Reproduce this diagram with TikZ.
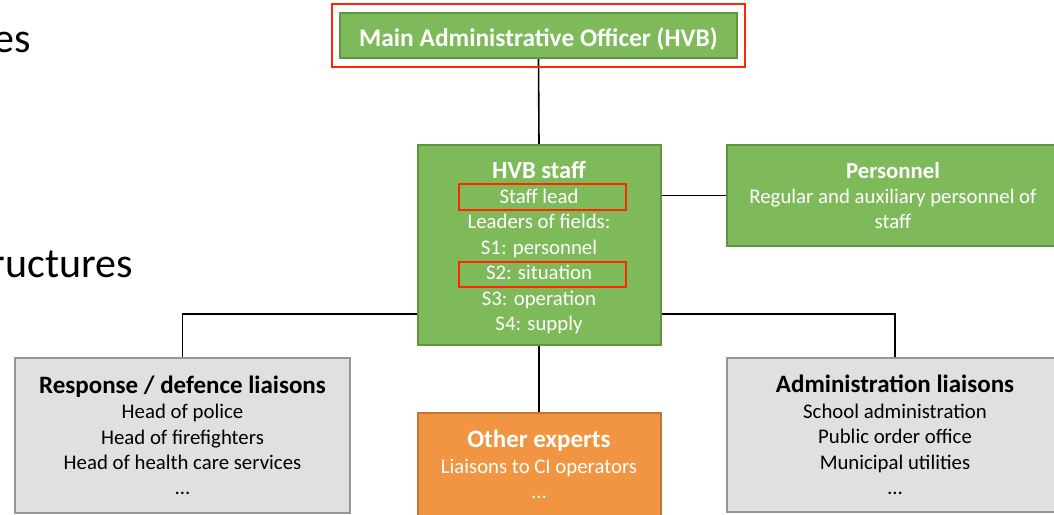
\documentclass[tikz,border=0pt]{standalone}
\usepackage{fontspec}
\setmainfont{Carlito}
\usetikzlibrary{fit,backgrounds}

\definecolor{boxgreen}{RGB}{127,186,90}
\definecolor{greenline}{RGB}{96,148,62}
\definecolor{boxorange}{RGB}{241,149,66}
\definecolor{orangeline}{RGB}{196,116,46}
\definecolor{boxgrey}{RGB}{224,224,224}
\definecolor{greyline}{RGB}{150,150,150}
\definecolor{markred}{RGB}{255,38,0}

\tikzset{
  basebox/.style={draw, line width=2pt, align=center, inner sep=0pt,
    font=\fontsize{20.8}{25.4}\selectfont},
  greenbox/.style={basebox, fill=boxgreen, draw=greenline, text=white},
  orangebox/.style={basebox, fill=boxorange, draw=orangeline, text=white},
  greybox/.style={basebox, fill=boxgrey, draw=greyline, text=black},
  redmark/.style={draw=markred, line width=2.6pt, inner sep=0pt},
  link/.style={draw=black, line width=1.6pt},
  slidetext/.style={font=\fontsize{42}{46}\selectfont, inner sep=0pt}
}
\newcommand{\boxtitle}[2][25]{{\fontsize{#1}{26}\selectfont\bfseries #2}}

\begin{document}
\begin{tikzpicture}[x=1pt, y=-1pt]
    % page frame
    \clip (0,0) rectangle (1054,514);

    % slide text cut off at the left
    \node[slidetext, anchor=base east] (wordA) at (31,52) {es};
    \node[slidetext, anchor=base east] (wordB) at (133,277) {ructures};

    % boxes
    \node[greenbox, minimum width=397, minimum height=45, text height=21pt, text depth=0pt,
      font=\fontsize{25.4}{28}\selectfont\bfseries] (hvb) at (538.5,35.5)
      {Main Administrative Officer (HVB)};
    \node[redmark, fit=(hvb), inner xsep=7, inner ysep=8] (hvbmark) {};

    \node[greenbox, minimum width=243, minimum height=200] (staff) at (539,245)
      {\boxtitle[24.5]{\rule{0pt}{22pt}HVB staff}\\ Staff lead\\ Leaders of fields:\\ S1: personnel\\
       S2: situation\\ S3: operation\\ S4: supply};
    \node[redmark, minimum width=167, minimum height=26] (leadmark) at (542.5,197) {};
    \node[redmark, minimum width=167, minimum height=25] (situationmark) at (542.5,274.5) {};

    \node[greenbox, minimum width=332, minimum height=101] (personnel) at (893,195.5)
      {\boxtitle[22.8]{Personnel}\\ Regular and auxiliary personnel of\\ staff};

    \node[greybox, minimum width=335, minimum height=155] (response) at (182.5,435.5)
      {\boxtitle{Response / defence liaisons}\\ Head of police\\ Head of firefighters\\
       Head of health care services\\ \dots};

    \node[orangebox, minimum width=243, minimum height=103] (experts) at (539,464.5)
      {\boxtitle{Other experts}\\ Liaisons to CI operators\\ \dots};

    \node[greybox, minimum width=336, minimum height=154] (admin) at (895,435)
      {\boxtitle{Administration liaisons}\\ School administration\\ Public order office\\
       Municipal utilities\\ \dots};

    % connectors
    \coordinate (bus) at (539,314);
    \begin{scope}[on background layer]
        \draw[link] (response.north) |- (bus) -| (admin.north);
        \draw[link] (hvb.south) -- (staff.north);
    \end{scope}
    \draw[link] (personnel.west) -- (personnel.west -| staff.east);
    \draw[link] (staff.south) -- (experts.north);
\end{tikzpicture}
\end{document}
